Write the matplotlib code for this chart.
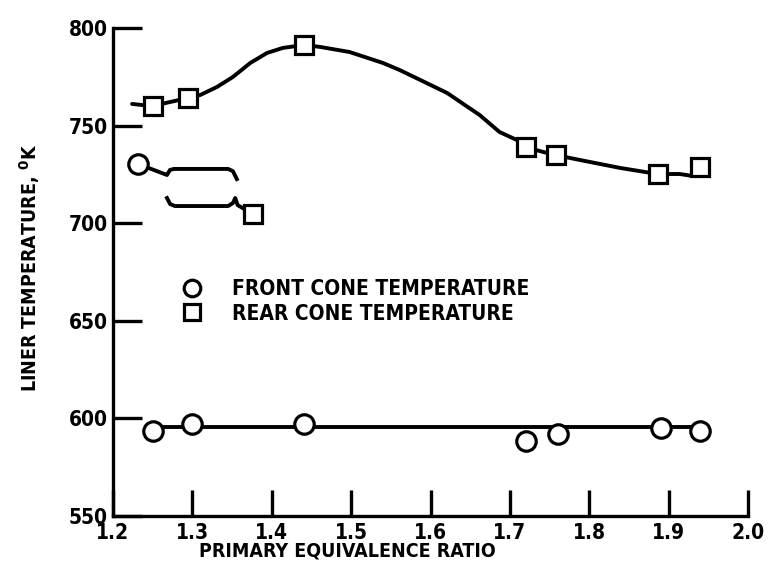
import matplotlib
matplotlib.use("Agg")
import matplotlib.pyplot as plt

FONT = ['DejaVu Sans']
STRETCH = 'condensed'

# ---- data ----
front_x = [1.25, 1.30, 1.44, 1.72, 1.76, 1.89, 1.94]
front_y = [593.5, 597.1, 597.1, 588.4, 592.0, 595.1, 593.5]
front_outlier_x = [1.232]
front_outlier_y = [730.3]

rear_x = [1.25, 1.295, 1.44, 1.72, 1.758, 1.886, 1.94]
rear_y = [760.0, 764.1, 791.3, 739.0, 734.9, 725.2, 728.8]
rear_outlier_x = [1.376]
rear_outlier_y = [704.7]

front_fit_x = [1.25, 1.94]
front_fit_y = [595.6, 595.6]

rear_fit_x = [1.224, 1.249, 1.294, 1.310, 1.331, 1.351, 1.373, 1.394, 1.414,
              1.441, 1.461, 1.498, 1.540, 1.561, 1.587, 1.621, 1.662, 1.687,
              1.709, 1.719, 1.742, 1.758, 1.788, 1.839, 1.886, 1.914, 1.930]
rear_fit_y = [761.1, 760.0, 764.1, 765.7, 769.8, 774.9, 782.1, 787.2, 789.8,
              791.3, 790.3, 787.7, 782.1, 778.5, 773.4, 766.7, 755.4, 746.7,
              742.6, 739.0, 736.5, 734.9, 732.4, 728.3, 725.2, 725.2, 724.2]

# bracket-like annotation linking the two outliers
brace_top_x = [1.232, 1.268, 1.2718, 1.277, 1.345, 1.351, 1.356]
brace_top_y = [730.3, 724.7, 727.3, 727.8, 727.8, 726.7, 722.6]
brace_bot_x = [1.268, 1.272, 1.278, 1.345, 1.351, 1.354, 1.357, 1.376]
brace_bot_y = [712.9, 709.8, 708.8, 708.8, 710.3, 712.9, 709.3, 704.7]

x_ticks = [1.2, 1.3, 1.4, 1.5, 1.6, 1.7, 1.8, 1.9, 2.0]
x_ticklabels = ["1.2", "1.3", "1.4", "1.5", "1.6", "1.7", "1.8", "1.9", "2.0"]
y_ticks = [550, 600, 650, 700, 750, 800]
y_ticklabels = ["550", "600", "650", "700", "750", "800"]

# ---- figure ----
fig = plt.figure(figsize=(7.7, 5.75), dpi=100)
ax = fig.add_axes([113 / 770, 1 - 516 / 575, 635 / 770, 488 / 575])

LW = 2.8
MS = 14
MEW = 2.3

ax.plot(front_fit_x, front_fit_y, color='black', lw=LW, zorder=2,
        solid_capstyle='round')
ax.plot(rear_fit_x, rear_fit_y, color='black', lw=LW, zorder=2,
        solid_capstyle='round', solid_joinstyle='round')
ax.plot(brace_top_x, brace_top_y, color='black', lw=LW, zorder=2,
        solid_joinstyle='round')
ax.plot(brace_bot_x, brace_bot_y, color='black', lw=LW, zorder=2,
        solid_joinstyle='round')

ax.plot(front_x, front_y, linestyle='none', marker='o', ms=MS, mfc='white',
        mec='black', mew=MEW, zorder=3, label='FRONT CONE TEMPERATURE')
ax.plot(rear_x, rear_y, linestyle='none', marker='s', ms=MS - 1, mfc='white',
        mec='black', mew=MEW, zorder=3, label='REAR CONE TEMPERATURE')
ax.plot(front_outlier_x, front_outlier_y, linestyle='none', marker='o', ms=MS,
        mfc='white', mec='black', mew=MEW, zorder=3)
ax.plot(rear_outlier_x, rear_outlier_y, linestyle='none', marker='s', ms=MS - 1,
        mfc='white', mec='black', mew=MEW, zorder=3)

ax.set_xlim(1.2, 2.0)
ax.set_ylim(550, 800)
for s in ['top', 'right']:
    ax.spines[s].set_visible(False)
for s in ['left', 'bottom']:
    ax.spines[s].set_linewidth(2.4)

ax.set_xticks(x_ticks)
ax.set_xticklabels(x_ticklabels, family=FONT, fontstretch=STRETCH,
                   fontweight='bold', fontsize=15)
ax.set_yticks(y_ticks)
ax.set_yticklabels(y_ticklabels, family=FONT, fontstretch=STRETCH,
                   fontweight='bold', fontsize=15)
ax.tick_params(axis='x', direction='in', length=19, width=2.4, pad=5,
               color='black')
ax.tick_params(axis='y', direction='in', length=21, width=2.4, pad=4,
               color='black')

ax.set_xlabel('PRIMARY EQUIVALENCE RATIO', family=FONT, fontstretch=STRETCH,
              fontweight='bold', fontsize=14)
ax.xaxis.set_label_coords((347 - 113) / 635, -0.052)
ax.set_ylabel('LINER TEMPERATURE, $^{\\mathbf{0}}$K', family=FONT,
              fontstretch=STRETCH, fontweight='bold', fontsize=14, va='center')
ax.yaxis.set_label_coords((30 - 113) / 635, (516 - 268) / 488)

leg = ax.legend(loc='center left', bbox_to_anchor=(0.091, 0.44),
                frameon=False, handlelength=1.0, handletextpad=1.45,
                labelspacing=0.22, markerscale=0.85, borderpad=0,
                prop={'family': FONT, 'stretch': STRETCH, 'weight': 'bold',
                      'size': 15})

fig.savefig('out.png', dpi=100)
